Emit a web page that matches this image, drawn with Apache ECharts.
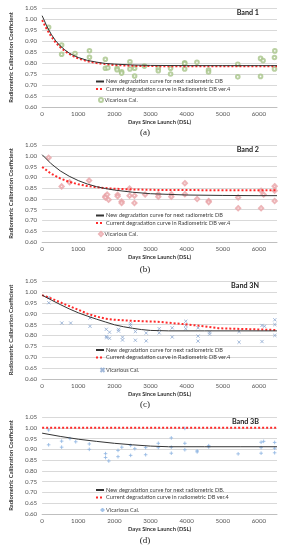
<!DOCTYPE html>
<html><head><meta charset="utf-8">
<script src="https://cdn.jsdelivr.net/npm/echarts@6/dist/echarts.min.js"></script>
<style>html,body{margin:0;padding:0;background:#fff}#c{width:290px;height:550px}</style>
</head><body><div id="c"></div>
<script>
// ---- tick labels / texts ----
const bandNames = ['Band 1', 'Band 2', 'Band 3N', 'Band 3B'];
const captions = ['(a)', '(b)', '(c)', '(d)'];
const newNames = ['New degradation curve for next radiometric DB', 'New degradation curve for next radiometric DB', 'New degradation curve for next radiometric DB', 'New degradation curve for next radiometric DB.'];
const curNames = ['Current degradation curve in Radiometric DB ver.4', 'Current degradation curve in Radiometric DB ver.4', 'Current degradation curve in Radiometric DB ver.4', 'Current degradation curve in radiometric DB ver.4'];
const vicName = 'Vicarious Cal.';

// ---- Band 1 ----
const b1CurveDays = [0,125,250,375,500,625,750,875,1000,1250,1500,1750,2000,2500,3000,4000,5000,6000,6500];
const b1New = [1.015,0.969,0.931,0.901,0.878,0.860,0.845,0.834,0.825,0.812,0.804,0.798,0.795,0.791,0.789,0.788,0.788,0.788,0.788];
const b1Cur = [0.995,0.955,0.921,0.893,0.872,0.855,0.841,0.830,0.821,0.808,0.800,0.795,0.791,0.787,0.786,0.785,0.785,0.785,0.785];
const b1VicDays = [180,540,540,910,1310,1310,1750,1750,1820,2075,2075,2200,2200,2430,2430,2560,2560,2830,3215,3215,3555,3555,3945,3945,3945,4285,4605,4605,5415,5415,6045,6115,6045,6430,6430,6440];
const b1VicVals = [0.962,0.882,0.840,0.843,0.856,0.826,0.817,0.776,0.778,0.776,0.769,0.760,0.754,0.806,0.773,0.776,0.741,0.786,0.776,0.765,0.776,0.750,0.801,0.797,0.773,0.803,0.768,0.759,0.794,0.737,0.821,0.811,0.739,0.773,0.825,0.855];

// ---- Band 2 ----
const b2CurveDays = [0,250,500,750,1000,1250,1500,1750,2000,2500,3000,3500,4000,5000,6000,6500];
const b2New = [1.005,0.963,0.930,0.905,0.885,0.869,0.857,0.848,0.841,0.831,0.824,0.821,0.818,0.816,0.815,0.815];
const b2Cur = [0.948,0.917,0.895,0.879,0.868,0.860,0.854,0.850,0.847,0.844,0.842,0.841,0.841,0.840,0.840,0.840];
const b2VicDays = [180,540,760,1300,1750,1750,1840,1800,2090,2090,2200,2200,2420,2420,2555,2555,2850,3215,3215,3575,3575,3950,3950,4290,4610,4610,5425,5425,6060,6060,6130,6435,6435,6435];
const b2VicVals = [0.991,0.858,0.877,0.885,0.812,0.807,0.796,0.820,0.819,0.812,0.788,0.781,0.848,0.815,0.815,0.781,0.820,0.822,0.810,0.822,0.810,0.873,0.822,0.799,0.790,0.785,0.807,0.757,0.838,0.757,0.820,0.859,0.838,0.790];

// ---- Band 3N ----
const b3nNewDays = [0,250,500,750,1000,1250,1500,1750,2000,2250,2500,2750,3000,3250,3500,4500,5500,6500];
const b3nNew = [0.985,0.963,0.942,0.922,0.904,0.889,0.875,0.862,0.849,0.840,0.833,0.827,0.823,0.822,0.821,0.821,0.821,0.821];
const b3nCurDays = [0,250,500,750,1000,1250,1500,1750,2000,2500,3000,3200,3220,3900,3920,4500,4520,4880,4900,6500];
const b3nCur = [0.985,0.970,0.952,0.935,0.918,0.900,0.887,0.877,0.872,0.867,0.864,0.863,0.855,0.852,0.843,0.842,0.834,0.833,0.826,0.825];
const b3nVicDays = [185,185,545,790,1325,1325,1775,1775,1790,1865,1865,2115,2115,2225,2225,2445,2445,2580,2580,2880,2880,3240,3240,3600,3600,3975,3975,3975,4315,4315,4315,4635,4635,5450,5450,6085,6155,6085,6440,6440,6440];
const b3nVicVals = [0.974,0.950,0.857,0.857,0.880,0.842,0.828,0.795,0.790,0.815,0.787,0.828,0.820,0.792,0.779,0.854,0.846,0.818,0.778,0.811,0.775,0.831,0.812,0.835,0.793,0.865,0.846,0.831,0.835,0.797,0.774,0.815,0.806,0.818,0.769,0.846,0.842,0.772,0.872,0.850,0.800];

// ---- Band 3B ----
const b3bNewDays = [0,500,1000,1500,2000,2500,3000,3500,4500,5500,6500];
const b3bNew = [0.975,0.960,0.947,0.937,0.928,0.921,0.915,0.912,0.912,0.912,0.912];
const b3bCurDays = [0,6500];
const b3bCur = [1.0,1.0];
const b3bVicDays = [180,180,540,540,770,930,1305,1305,1755,1755,1845,2100,2100,2205,2450,2450,2565,2865,2865,3215,3215,3575,3575,3575,3950,3950,3950,4290,4290,4610,4610,5425,6060,6130,6060,6060,6435,6435,6435];
const b3bVicVals = [0.990,0.921,0.938,0.910,0.950,0.935,0.925,0.900,0.880,0.862,0.846,0.895,0.866,0.910,0.918,0.872,0.903,0.908,0.875,0.928,0.908,0.953,0.910,0.882,0.997,0.928,0.898,0.893,0.888,0.917,0.911,0.879,0.933,0.937,0.908,0.882,0.932,0.905,0.884];

// ---- axis ----
const xMin = 0, xMax = 6500, xInterval = 1000;
const yMin = 0.60, yMax = 1.05, yInterval = 0.05;

// ---- styling / layout ----
const panels = [
  {top: 8, height: 99, newD: b1CurveDays, newV: b1New, curD: b1CurveDays, curV: b1Cur, vd: b1VicDays, vv: b1VicVals,
   sym: 'emptyCircle', symSize: 3.6, col: '#a8c48a', legTop: 78.5, titleTop: 9},
  {top: 145, height: 97, newD: b2CurveDays, newV: b2New, curD: b2CurveDays, curV: b2Cur, vd: b2VicDays, vv: b2VicVals,
   sym: 'emptyDiamond', symSize: 4.2, col: '#e8a2a6', legTop: 212.5, titleTop: 146},
  {top: 281, height: 98, newD: b3nNewDays, newV: b3nNew, curD: b3nCurDays, curV: b3nCur, vd: b3nVicDays, vv: b3nVicVals,
   sym: 'path://M0,0L10,10M10,0L0,10', symSize: 3.2, col: '#8aa6d0', legTop: 347, titleTop: 282},
  {top: 417, height: 97, newD: b3bNewDays, newV: b3bNew, curD: b3bCurDays, curV: b3bCur, vd: b3bVicDays, vv: b3bVicVals,
   sym: 'path://M5,0L5,10M0,5L10,5', symSize: 3.6, col: '#8db4e2', legTop: 487, titleTop: 418}
];
const captionTops = [128, 265, 400, 536];
const FONT = 'Lato, "Open Sans", sans-serif';
const LEG_FS = 5.6, LEG_PITCH = 8.5;
const zip = (a, b) => a.map((d, i) => [d, b[i]]);

const grid = [], xAxis = [], yAxis = [], series = [], legend = [], title = [];
panels.forEach((p, i) => {
  const tag = '|' + i;
  grid.push({left: 33, right: 13, top: p.top, height: p.height, containLabel: false});
  xAxis.push({
    type: 'value', gridIndex: i, min: xMin, max: xMax, interval: xInterval,
    name: 'Days Since Launch (DSL)', nameLocation: 'middle', nameGap: 12,
    nameTextStyle: {fontFamily: FONT, fontSize: 5.8, fontWeight: 'bold', color: '#333'},
    axisLine: {show: true, onZero: false, lineStyle: {color: '#bfbfbf', width: 1}},
    axisTick: {show: false}, splitLine: {show: false},
    axisLabel: {fontFamily: FONT, fontSize: 6.2, color: '#555', margin: 4, showMaxLabel: false,
      formatter: v => (v % 1000 === 0 ? String(v) : '')}
  });
  yAxis.push({
    type: 'value', gridIndex: i, min: yMin, max: yMax, interval: yInterval,
    name: 'Radiometric Calibration Coefficient', nameLocation: 'middle', nameGap: 20, nameRotate: 90,
    nameTextStyle: {fontFamily: FONT, fontSize: 5.8, fontWeight: 'bold', color: '#333'},
    axisLine: {show: false}, axisTick: {show: false},
    splitLine: {show: true, lineStyle: {color: '#d9d9d9', width: 1}},
    axisLabel: {fontFamily: FONT, fontSize: 6.2, color: '#555', margin: 5, formatter: v => v.toFixed(2)}
  });
  series.push({
    name: newNames[i] + tag, type: 'line', xAxisIndex: i, yAxisIndex: i, data: zip(p.newD, p.newV),
    showSymbol: false, symbol: 'none', smooth: false, z: 3,
    lineStyle: {color: '#333333', width: 1}, itemStyle: {color: '#333333'}
  });
  series.push({
    name: curNames[i] + tag, type: 'line', xAxisIndex: i, yAxisIndex: i, data: zip(p.curD, p.curV),
    showSymbol: false, symbol: 'none', z: 2,
    lineStyle: {color: '#ff2a2a', width: 2, type: 'dotted'}, itemStyle: {color: '#ff2a2a'}
  });
  series.push({
    name: vicName + tag, type: 'scatter', xAxisIndex: i, yAxisIndex: i, data: zip(p.vd, p.vv),
    symbol: p.sym, symbolSize: p.symSize, z: 1,
    itemStyle: {color: p.sym.startsWith('path') ? 'none' : p.col, borderColor: p.col, borderWidth: 1}
  });
  const legText = {fontFamily: FONT, fontSize: LEG_FS, color: '#404040', padding: [0, 0, 0, -3]};
  // line entries
  legend.push({
    left: 95, top: p.legTop, orient: 'vertical', itemGap: LEG_PITCH - 7, itemWidth: 8, itemHeight: 7,
    padding: 0, selectedMode: false,
    data: [
      {name: newNames[i] + tag, itemStyle: {opacity: 0}},
      {name: curNames[i] + tag, itemStyle: {opacity: 0}}
    ],
    formatter: n => n.split('|')[0],
    textStyle: legText
  });
  // marker entry
  legend.push({
    left: 98, top: p.legTop + 2 * LEG_PITCH + 1.5, orient: 'vertical', itemWidth: 4, itemHeight: 4,
    padding: 0, selectedMode: false,
    data: [vicName + tag],
    formatter: n => n.split('|')[0],
    textStyle: Object.assign({}, legText, {padding: [0, 0, 0, -3.5]})
  });
  title.push({
    text: bandNames[i], right: 31, top: p.titleTop, padding: 0,
    textStyle: {fontFamily: FONT, fontSize: 7.2, fontWeight: 'bold', color: '#222'}
  });
  title.push({
    text: captions[i], left: 'center', top: captionTops[i], padding: 0,
    textStyle: {fontFamily: '"Liberation Serif", "DejaVu Serif", serif', fontSize: 9, fontWeight: 'normal', color: '#222'}
  });
});

const chart = echarts.init(document.getElementById('c'), null, {renderer: 'canvas'});
chart.setOption({animation: false, backgroundColor: '#fff', title, grid, xAxis, yAxis, legend, series});
</script></body></html>
